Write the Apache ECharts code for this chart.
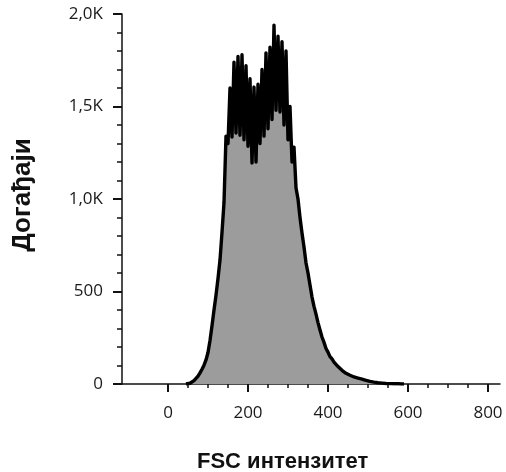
<!DOCTYPE html>
<html>
<head>
<meta charset="utf-8">
<script src="https://cdn.jsdelivr.net/npm/echarts@6/dist/echarts.min.js"></script>
<style>
html,body{margin:0;padding:0;background:#fff;}
#chart{width:506px;height:472px;}
</style>
</head>
<body>
<div id="chart"></div>
<script>
// FSC channel (bin start) values
var fscBins = [
  45, 50, 55, 60, 65, 70, 75, 80, 85, 90, 95, 100, 105, 110, 115, 120, 125, 130, 135, 140,
  145, 150, 155, 160, 165, 170, 175, 180, 185, 190, 195, 200, 205, 210, 215, 220, 225, 230, 235, 240,
  245, 250, 255, 260, 265, 270, 275, 280, 285, 290, 295, 300, 305, 310, 315, 320, 325, 330, 335, 340,
  345, 350, 355, 360, 365, 370, 375, 380, 385, 390, 395, 400, 405, 410, 415, 420, 425, 430, 435, 440,
  445, 450, 455, 460, 465, 470, 475, 480, 485, 490, 495, 500, 505, 510, 515, 520, 525, 530, 535, 540,
  545, 550, 555, 560, 565, 570, 575, 580, 585, 590
];
// event counts per bin
var eventCounts = [
  0, 0, 4, 10, 18, 28, 42, 60, 80, 102, 130, 170, 235, 315, 400, 480, 570, 670, 820, 980,
  1340, 1300, 1600, 1335, 1740, 1357, 1770, 1345, 1780, 1320, 1720, 1285, 1650, 1195, 1605, 1200, 1620, 1300, 1700, 1340,
  1790, 1380, 1820, 1430, 1940, 1480, 1880, 1470, 1850, 1400, 1800, 1320, 1500, 1200, 1280, 1060, 1000, 900, 816, 740,
  655, 600, 535, 470, 420, 378, 332, 292, 254, 225, 192, 172, 148, 136, 118, 108, 94, 86, 74, 68,
  58, 54, 47, 44, 38, 37, 32, 31, 26, 24, 20, 18, 14, 12, 10, 9, 7, 6, 5, 4,
  3, 3, 2, 2, 1, 1, 1, 0, 0, 0
];
var xMajorTicks = [0, 200, 400, 600, 800];
var xMinorTicks = [50, 100, 150, 250, 300, 350, 450, 500, 550, 650, 700, 750];
var yTickValues = [0, 500, 1000, 1500, 2000];
var yTickLabels = ['0', '500', '1,0K', '1,5K', '2,0K'];
var xTitle = 'FSC интензитет';
var yTitle = 'Догађаји';

var seriesData = fscBins.map(function (x, i) { return [x, eventCounts[i]]; });

var chart = echarts.init(document.getElementById('chart'), null, {renderer: 'canvas'});
var labelFont = {fontFamily: 'Open Sans', fontSize: 17, color: '#1a1a1a'};
chart.setOption({
  animation: false,
  backgroundColor: '#ffffff',
  title: {
    text: xTitle,
    left: 192,
    top: 446,
    textStyle: {fontFamily: 'Liberation Sans', fontWeight: 'bold', fontSize: 22, color: '#111'}
  },
  grid: {left: 122, right: 6, top: 14, bottom: 88, containLabel: false},
  xAxis: [{
    type: 'value',
    min: -115,
    max: 830,
    splitLine: {show: false},
    axisLine: {show: true, onZero: false, lineStyle: {color: '#111', width: 1.5}},
    axisTick: {show: true, customValues: xMajorTicks, length: 8, lineStyle: {color: '#111', width: 2}},
    axisLabel: Object.assign({customValues: xMajorTicks, margin: 21, formatter: function (v) { return String(v); }}, labelFont)
  }, {
    type: 'value',
    min: -115,
    max: 830,
    position: 'bottom',
    splitLine: {show: false},
    axisLine: {show: false, onZero: false},
    axisTick: {show: true, customValues: xMinorTicks, length: 4, lineStyle: {color: '#111', width: 1.5}},
    axisLabel: {show: false}
  }],
  yAxis: {
    type: 'value',
    min: 0,
    max: 2000,
    interval: 500,
    name: yTitle,
    nameLocation: 'middle',
    nameGap: 86,
    nameRotate: 90,
    nameTextStyle: {fontFamily: 'Liberation Sans', fontWeight: 'bold', fontSize: 26, color: '#111', padding: [0, 0, 0, 8]},
    splitLine: {show: false},
    axisLine: {show: true, onZero: false, lineStyle: {color: '#111', width: 1.5}},
    axisTick: {show: true, length: 9, lineStyle: {color: '#111', width: 2}},
    minorTick: {show: true, splitNumber: 5, length: 5, lineStyle: {color: '#111', width: 1.5}},
    axisLabel: Object.assign({margin: 19, formatter: function (v) {
      var i = yTickValues.indexOf(v); return i >= 0 ? yTickLabels[i] : '';
    }}, labelFont)
  },
  series: [{
    type: 'line',
    xAxisIndex: 0,
    data: seriesData,
    symbol: 'none',
    smooth: false,
    lineStyle: {color: '#000', width: 3.4, join: 'round'},
    areaStyle: {color: '#9c9c9c', opacity: 1}
  }]
});
</script>
</body>
</html>
